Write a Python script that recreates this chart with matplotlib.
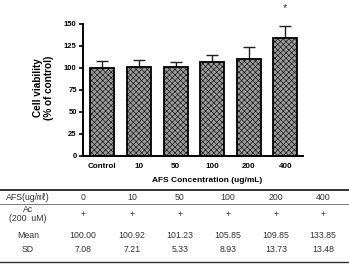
import matplotlib
matplotlib.use("Agg")
import matplotlib.pyplot as plt
import numpy as np

categories = ["Control", "10", "50", "100", "200", "400"]
concentrations = ["0", "10", "50", "100", "200", "400"]
means = [100.00, 100.92, 101.23, 105.85, 109.85, 133.85]
sds = [7.08, 7.21, 5.33, 8.93, 13.73, 13.48]
ac_marks = ["+", "+", "+", "+", "+", "+"]
yticks = [0, 25, 50, 75, 100, 125, 150]
sig_index = 5

W, H = 349, 266
plt.rcParams['hatch.linewidth'] = 0.4
plt.rcParams['hatch.color'] = '#2a2a2a'
fig = plt.figure(figsize=(W / 100, H / 100), dpi=100)

def fx(px):
    return px / W

def fy(py):
    return 1 - py / H

ax = fig.add_axes([fx(83), fy(156), fx(303) - fx(83), fy(23.5) - fy(156)])
x = np.arange(len(categories))
ax.bar(x, means, width=0.655, color='#9a9a9a', edgecolor='black', linewidth=1.3,
       hatch='xxxxxx', zorder=2)
ax.errorbar(x, means, yerr=[np.zeros(len(sds)), sds], fmt='none', ecolor='#222222',
            elinewidth=1.0, capsize=4.5, capthick=1.0, zorder=1)
ax.text(x[sig_index], 168, "*", ha='center', va='center', fontsize=8,
        color='#333333', clip_on=False, family='Liberation Sans')
ax.set_ylim(0, 150)
ax.set_xlim(-0.53, 5.48)
ax.set_yticks(yticks)
ax.set_yticklabels([str(v) for v in yticks], fontsize=5.5, fontweight='bold',
                   family='Liberation Sans')
ax.set_xticks(x)
ax.set_xticklabels(categories, fontsize=5.8, fontweight='bold', family='Liberation Sans')
ax.tick_params(axis='x', length=0, pad=5)
ax.tick_params(axis='y', length=3, width=1.2, pad=1.5)
for s in ['top', 'right']:
    ax.spines[s].set_visible(False)
for s in ['left', 'bottom']:
    ax.spines[s].set_linewidth(1.4)

fig.text(fx(43.5), fy(88), "Cell viability\n(% of control)", rotation=90, ha='center',
         va='center', fontsize=7.2, fontweight='bold', family='Liberation Sans',
         linespacing=1.15)
fig.text(fx(207), fy(180), "AFS Concentration (ug/mL)", ha='center', va='center',
         fontsize=6, fontweight='bold', family='Liberation Sans')

# Table
tcol = '#333333'
fam = ['Liberation Sans', 'Noto Sans CJK KR']
col_x = [28, 83, 132, 180, 228, 276, 323]
fig.add_artist(plt.Line2D([0, 1], [fy(190), fy(190)], color='#222222', lw=1.3))
fig.add_artist(plt.Line2D([0, 1], [fy(203.5), fy(203.5)], color='#666666', lw=0.6))
fig.add_artist(plt.Line2D([0, 1], [fy(262), fy(262)], color='#333333', lw=1.0))

fs = 6.3
fig.text(fx(col_x[0]), fy(197), "AFS(ug/\u3396)", ha='center', va='center', fontsize=fs,
         color=tcol, family=fam)
for cx, c in zip(col_x[1:], concentrations):
    fig.text(fx(cx), fy(197), c, ha='center', va='center', fontsize=fs, color=tcol, family=fam)
fig.text(fx(col_x[0]), fy(214), "Ac\n(200  uM)", ha='center', va='center', fontsize=fs,
         color=tcol, family=fam, linespacing=1.0)
for cx, m in zip(col_x[1:], ac_marks):
    fig.text(fx(cx), fy(214), m, ha='center', va='center', fontsize=fs, color=tcol, family=fam)
fig.text(fx(col_x[0]), fy(236), "Mean", ha='center', va='center', fontsize=fs, color=tcol, family=fam)
for cx, m in zip(col_x[1:], means):
    fig.text(fx(cx), fy(236), f"{m:.2f}", ha='center', va='center', fontsize=fs, color=tcol, family=fam)
fig.text(fx(col_x[0]), fy(249), "SD", ha='center', va='center', fontsize=fs, color=tcol, family=fam)
for cx, s in zip(col_x[1:], sds):
    fig.text(fx(cx), fy(249), f"{s:.2f}", ha='center', va='center', fontsize=fs, color=tcol, family=fam)

fig.savefig("out.png", dpi=100)
